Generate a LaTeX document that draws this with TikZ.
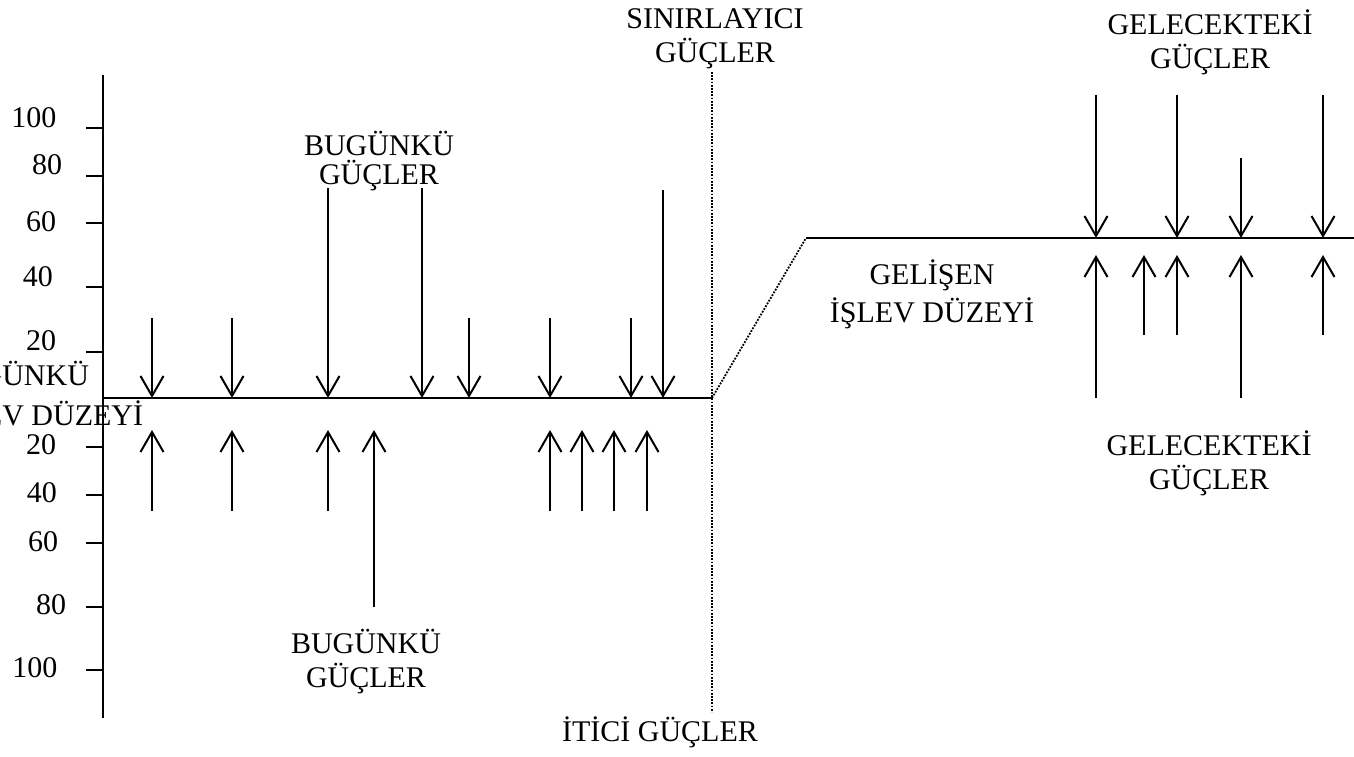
\documentclass[tikz,border=0pt]{standalone}
\usepackage{fontspec}
\setmainfont{Liberation Serif}
\usetikzlibrary{arrows.meta}

\begin{document}
\begin{tikzpicture}[x=1pt, y=-1pt, line width=2pt,
  lbl/.style={font=\fontsize{30}{34}\selectfont, align=center, inner sep=0pt},
  num/.style={font=\fontsize{30}{34}\selectfont, inner sep=0pt},
  force/.style={-{Straight Barb[length=20pt,width=23pt]}},
  bound/.style={line width=1.8pt, dash pattern=on 1.8pt off 1.4pt}]
  \useasboundingbox (0,0) rectangle (1354,757);
  \clip (0,0) rectangle (1354,757);

  % scale
  \coordinate (axtop) at (103,75);
  \coordinate (axbot) at (103,718);
  \draw (axtop) -- (axbot);
  \foreach \ty/\lx/\ly/\val [count=\i] in {128/34/118/100, 176/47/165/80, 223/41/222/60, 287/38/277/40, 352/41/341/20} {
    \draw (86,\ty) -- (103,\ty);
    \node[num] (up\i) at (\lx,\ly) {\val};
  }
  \foreach \ty/\lx/\ly/\val [count=\i] in {447/41/445/20, 495/42/493/40, 543/43/542/60, 607/51/605/80, 670/35/668/100} {
    \draw (86,\ty) -- (103,\ty);
    \node[num] (lo\i) at (\lx,\ly) {\val};
  }

  % levels
  \coordinate (now0) at (103,398);
  \coordinate (now1) at (712,398);
  \coordinate (fut0) at (806,238);
  \coordinate (fut1) at (1354,238);
  \coordinate (limtop) at (712,72);
  \coordinate (limbot) at (712,712);
  \draw (now0) -- (now1);
  \draw[bound] (now1) -- (fut0);
  \draw (fut0) -- (fut1);
  \draw[bound] (limtop) -- (limbot);

  \node[lbl] (sinir) at (715,39) {SINIRLAYICI\\GÜÇLER};
  \node[lbl] (bugun1) at (379,161) {BUGÜNKÜ\\[-5pt]GÜÇLER};
  \node[lbl] (bugun2) at (366,662) {BUGÜNKÜ\\GÜÇLER};
  \node[lbl] (gelisen) at (932,294) {GELİŞEN\\[4pt]İŞLEV DÜZEYİ};
  \node[lbl] (gelecek1) at (1210,42) {GELECEKTEKİ\\GÜÇLER};
  \node[lbl] (gelecek2) at (1209,463) {GELECEKTEKİ\\GÜÇLER};
  \node[lbl, anchor=base] (itici) at (660,741) {İTİCİ GÜÇLER};
  \node[lbl, align=left, anchor=west] (mevcut) at (-62,397) {BUGÜNKÜ\\[6pt]İŞLEV DÜZEYİ};

  % forces on today's level
  \foreach \x/\s [count=\i] in {152/318, 232/318, 328/188, 422/188, 469/318, 550/318, 631/318, 663/190} {
    \coordinate (pa\i) at (\x,\s);
    \coordinate (pb\i) at (\x,398);
    \draw[force] (pa\i) -- (pb\i);
  }
  \foreach \x/\s [count=\i] in {152/511, 232/511, 328/511, 374/607, 550/511, 582/511, 614/511, 647/511} {
    \coordinate (qa\i) at (\x,\s);
    \coordinate (qb\i) at (\x,430);
    \draw[force] (qa\i) -- (qb\i);
  }

  % forces on the developing level
  \foreach \x/\s [count=\i] in {1096/95, 1177/95, 1241/158, 1323/95} {
    \coordinate (ra\i) at (\x,\s);
    \coordinate (rb\i) at (\x,238);
    \draw[force] (ra\i) -- (rb\i);
  }
  \foreach \x/\s [count=\i] in {1096/398, 1144/335, 1177/335, 1241/398, 1323/335} {
    \coordinate (sa\i) at (\x,\s);
    \coordinate (sb\i) at (\x,255);
    \draw[force] (sa\i) -- (sb\i);
  }
\end{tikzpicture}
\end{document}
